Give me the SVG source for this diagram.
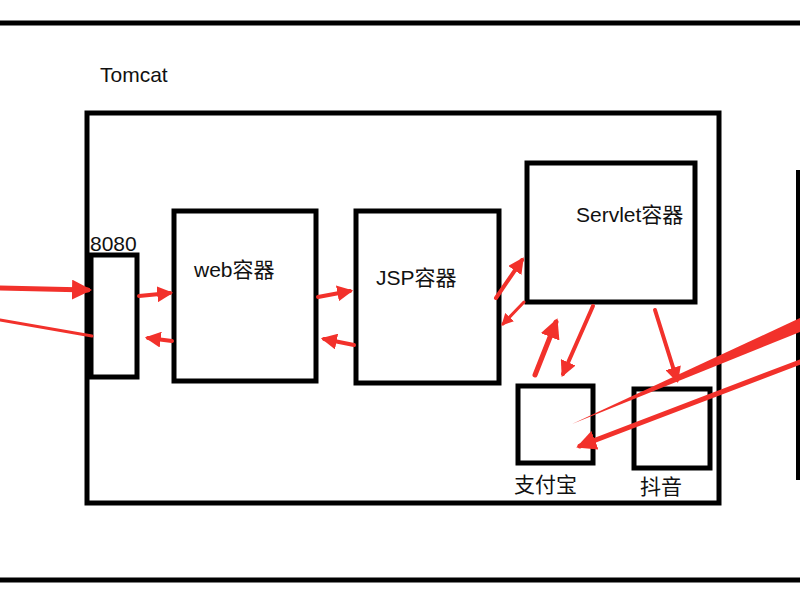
<svg xmlns="http://www.w3.org/2000/svg" width="800" height="600" viewBox="0 0 800 600">
<style>
.b{fill:#fff;stroke:#000;stroke-width:5}
.t{font-family:"Liberation Sans","Noto Sans CJK SC",sans-serif;font-size:21px;fill:#111}
.a{stroke:#f2312b;fill:none;stroke-linecap:round}
</style>
<defs>
<marker id="h" viewBox="0 0 10 10" refX="8" refY="5" markerWidth="4" markerHeight="4" orient="auto" markerUnits="strokeWidth"><path d="M0,0L10,5L0,10z" fill="#f2312b"/></marker>
</defs>
<rect width="800" height="600" fill="#fff"/>
<g id="frame">
<line x1="0" y1="23" x2="800" y2="23" stroke="#000" stroke-width="5"/>
<line x1="0" y1="580" x2="800" y2="580" stroke="#000" stroke-width="5"/>
<line x1="798" y1="170" x2="798" y2="480" stroke="#000" stroke-width="4"/>
</g>
<g id="tomcat"><rect class="b" x="87" y="113" width="632" height="390"/><text class="t" x="100" y="82">Tomcat</text></g>
<g id="port"><rect class="b" x="91" y="255" width="46" height="122"/><text class="t" x="90" y="251">8080</text></g>
<g id="web"><rect class="b" x="174" y="211" width="142" height="170"/><text class="t" x="194" y="277">web容器</text></g>
<g id="jsp"><rect class="b" x="356" y="211" width="143" height="172"/><text class="t" x="376" y="285">JSP容器</text></g>
<g id="servlet"><rect class="b" x="527" y="163" width="168" height="139"/><text class="t" x="576" y="222">Servlet容器</text></g>
<g id="alipay"><rect class="b" x="518" y="386" width="75" height="77"/><text class="t" x="514" y="492">支付宝</text></g>
<g id="douyin"><rect class="b" x="634" y="389" width="76" height="79"/><text class="t" x="640" y="494">抖音</text></g>
<g id="connectors">
<line class="a" x1="0" y1="288" x2="88" y2="290" stroke-width="5" marker-end="url(#h)"/>
<line class="a" x1="0" y1="320" x2="92" y2="336" stroke-width="3"/>
<line class="a" x1="139" y1="296" x2="170" y2="293" stroke-width="4" marker-end="url(#h)"/>
<line class="a" x1="172" y1="341" x2="148" y2="338" stroke-width="4" marker-end="url(#h)"/>
<line class="a" x1="318" y1="297" x2="350" y2="291" stroke-width="4" marker-end="url(#h)"/>
<line class="a" x1="354" y1="345" x2="324" y2="339" stroke-width="4" marker-end="url(#h)"/>
<line class="a" x1="496" y1="298" x2="522" y2="260" stroke-width="4" marker-end="url(#h)"/>
<line class="a" x1="524" y1="302" x2="503" y2="324" stroke-width="3" marker-end="url(#h)"/>
<line class="a" x1="535" y1="375" x2="556" y2="322" stroke-width="5" marker-end="url(#h)"/>
<line class="a" x1="593" y1="306" x2="563" y2="374" stroke-width="4" marker-end="url(#h)"/>
<line class="a" x1="655" y1="310" x2="677" y2="380" stroke-width="4" marker-end="url(#h)"/>
<polygon points="800,318 800,332 572,424" fill="#f2312b"/>
<line class="a" x1="800" y1="362" x2="580" y2="446" stroke-width="5" marker-end="url(#h)"/>
</g>
</svg>
